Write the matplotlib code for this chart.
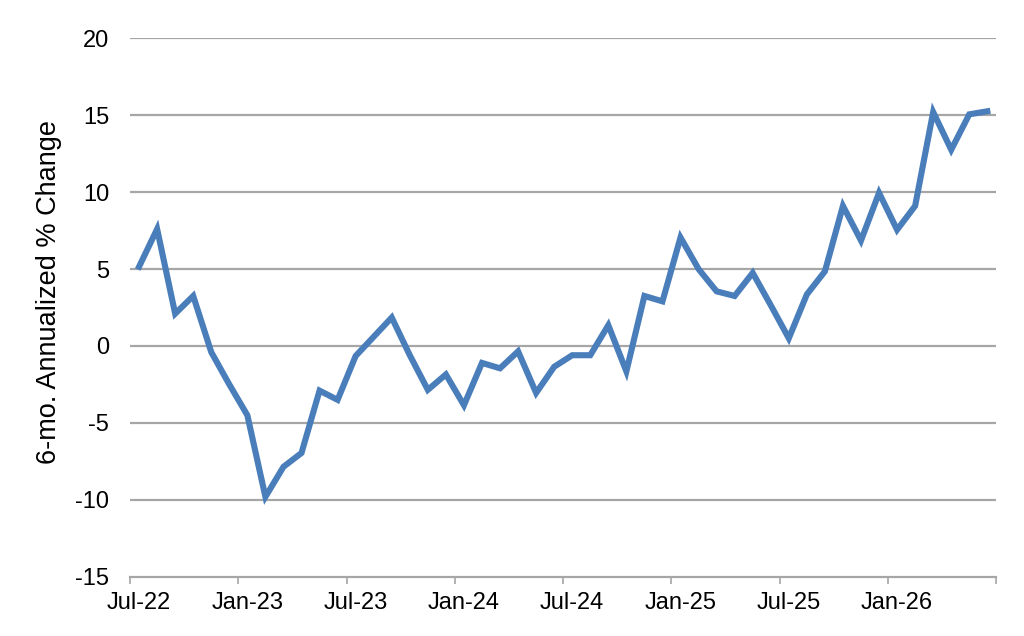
import numpy as np
import matplotlib.pyplot as plt

plt.rcParams['font.family'] = ['Liberation Sans', 'DejaVu Sans']

# monthly values, Jul-22 .. Jun-26
values = [5.15, 7.6, 2.1, 3.25, -0.4, -2.5, -4.5, -9.8, -7.85, -6.95,
          -2.9, -3.5, -0.65, 0.6, 1.85, -0.6, -2.85, -1.85, -3.85, -1.1,
          -1.45, -0.35, -3.05, -1.35, -0.6, -0.6, 1.35, -1.65, 3.25, 2.9,
          7.05, 5.0, 3.55, 3.25, 4.75, 2.65, 0.5, 3.35, 4.85, 9.1,
          6.85, 9.95, 7.55, 9.1, 15.2, 12.75, 15.05, 15.25]
tick_labels = ['Jul-22', 'Jan-23', 'Jul-23', 'Jan-24', 'Jul-24',
               'Jan-25', 'Jul-25', 'Jan-26']
y_ticks = [-15, -10, -5, 0, 5, 10, 15, 20]

fig = plt.figure(figsize=(10.24, 6.36), dpi=100, facecolor='white')
ax = fig.add_axes([0.127, 0.093, 0.846, 0.847])

n = len(values)
x = np.arange(n) + 0.5
ax.plot(x, values, color='#4a7ebb', linewidth=4.4, solid_joinstyle='miter', zorder=3)

ax.set_xlim(0, n)
ax.set_ylim(-15, 20)
ax.set_yticks(y_ticks)
ax.set_yticklabels([str(v) for v in y_ticks])
# labels sit at the first month of each half-year, tick marks at the boundaries
ax.set_xticks(np.arange(0, n, 6) + 0.5)
ax.set_xticklabels(tick_labels)
ax.set_xticks(np.arange(0, n + 1, 6), minor=True)

for v in y_ticks[1:]:
    ax.axhline(v, color='#a6a6a6', linewidth=1.6, zorder=1)

for s in ['top', 'right', 'left']:
    ax.spines[s].set_visible(False)
ax.spines['bottom'].set_color('#a6a6a6')
ax.spines['bottom'].set_linewidth(1.6)

ax.tick_params(axis='y', length=0, pad=15, labelsize=17)
ax.tick_params(axis='x', which='major', length=0, pad=11, labelsize=17)
ax.tick_params(axis='x', which='minor', length=5, width=1.2, color='#a6a6a6')

ax.set_ylabel('6-mo. Annualized % Change', fontsize=19.5)
ax.yaxis.set_label_coords(-0.078, 0.529)

fig.savefig('out.png', dpi=100)
